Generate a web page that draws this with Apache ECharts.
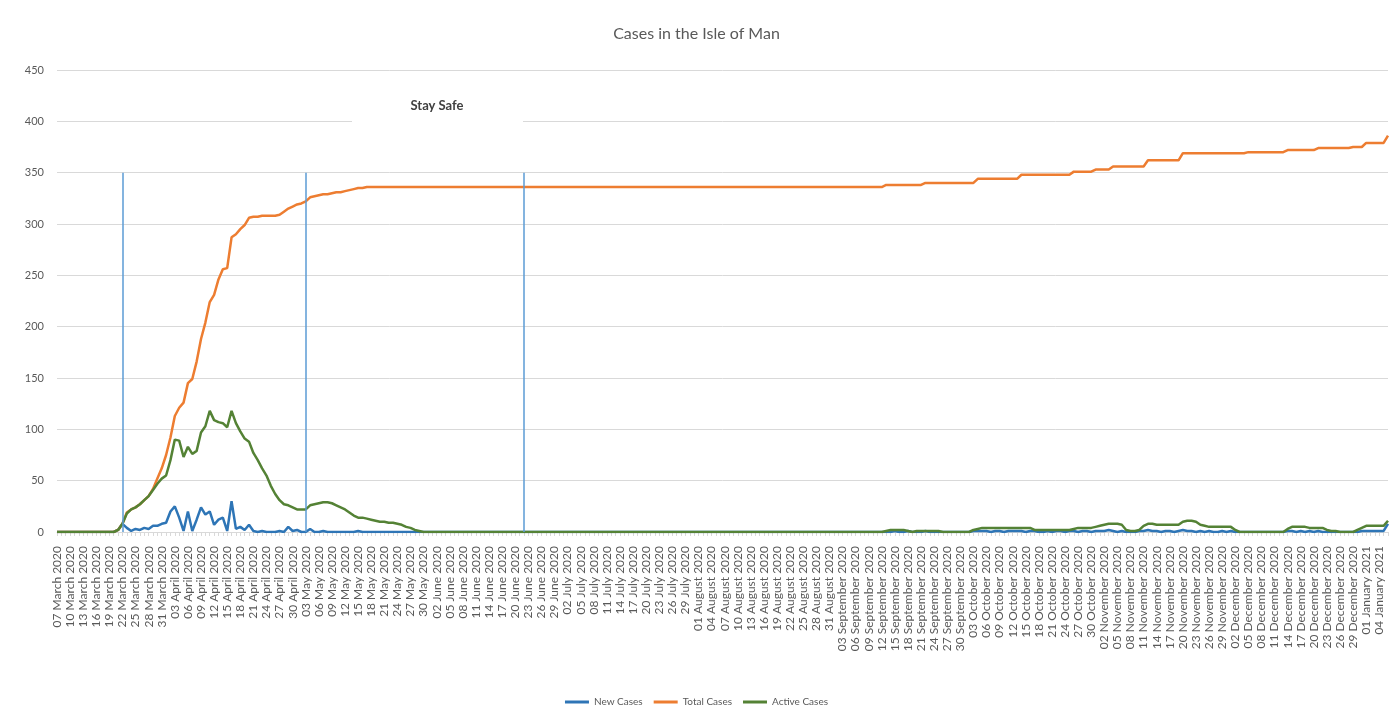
<!DOCTYPE html>
<html>
<head>
<meta charset="utf-8">
<title>Cases in the Isle of Man</title>
<script src="https://cdn.jsdelivr.net/npm/echarts@6/dist/echarts.min.js"></script>
<style>
  html, body { margin: 0; padding: 0; background: #fff; }
  #caseChart { width: 1393px; height: 725px; }
</style>
</head>
<body>
<div id="caseChart"></div>
<script>
// daily figures, 07 March 2020 -> 06 January 2021
const firstDay = "2020-03-07";
const dayCount = 306;
const monthNames = ["January", "February", "March", "April", "May", "June",
  "July", "August", "September", "October", "November", "December"];

const yMax = 450;
const yStep = 50;

const seriesNames = ["New Cases", "Total Cases", "Active Cases"];

// blue marker lines (lockdown dates)
const markerDates = ["22 March 2020", "03 May 2020", "22 June 2020"];
const markerTop = 350;

const newCases = [
  0, 0, 0, 0, 0, 0, 0, 0, 0, 0,
  0, 0, 0, 0, 2, 8, 4, 1, 3, 2,
  4, 3, 6, 6, 8, 9, 20, 25, 14, 1,
  20, 1, 12, 24, 17, 20, 7, 12, 14, 1,
  30, 3, 5, 2, 7, 1, 0, 1, 0, 0,
  0, 1, 0, 5, 1, 2, 0, 0, 3, 0,
  0, 1, 0, 0, 0, 0, 0, 0, 0, 1,
  0, 0, 0, 0, 0, 0, 0, 0, 0, 0,
  0, 0, 0, 0, 0, 0, 0, 0, 0, 0,
  0, 0, 0, 0, 0, 0, 0, 0, 0, 0,
  0, 0, 0, 0, 0, 0, 0, 0, 0, 0,
  0, 0, 0, 0, 0, 0, 0, 0, 0, 0,
  0, 0, 0, 0, 0, 0, 0, 0, 0, 0,
  0, 0, 0, 0, 0, 0, 0, 0, 0, 0,
  0, 0, 0, 0, 0, 0, 0, 0, 0, 0,
  0, 0, 0, 0, 0, 0, 0, 0, 0, 0,
  0, 0, 0, 0, 0, 0, 0, 0, 0, 0,
  0, 0, 0, 0, 0, 0, 0, 0, 0, 0,
  0, 0, 0, 0, 0, 0, 0, 0, 0, 0,
  0, 0, 1, 0, 0, 1, 0, 0, 0, 1,
  0, 0, 0, 0, 0, 0, 0, 0, 0, 0,
  1, 1, 1, 1, 0, 1, 1, 0, 1, 1,
  1, 1, 0, 1, 1, 0, 0, 1, 0, 1,
  1, 0, 1, 1, 0, 1, 1, 0, 1, 1,
  1, 2, 1, 0, 1, 0, 0, 0, 1, 1,
  2, 1, 1, 0, 1, 1, 0, 1, 2, 1,
  1, 0, 1, 0, 1, 0, 0, 1, 0, 1,
  0, 0, 0, 0, 0, 0, 0, 0, 0, 0,
  0, 0, 1, 1, 0, 1, 0, 1, 0, 1,
  0, 0, 0, 0, 0, 0, 0, 0, 0, 1,
  1, 1, 1, 1, 1, 8
];

const totalCases = [
  0, 0, 0, 0, 0, 0, 0, 0, 0, 0,
  0, 0, 0, 0, 2, 8, 19, 22, 24, 27,
  31, 35, 42, 52, 62, 75, 92, 113, 121, 126,
  145, 149, 166, 188, 204, 224, 231, 246, 256, 257,
  287, 290, 295, 299, 306, 307, 307, 308, 308, 308,
  308, 309, 312, 315, 317, 319, 320, 322, 326, 327,
  328, 329, 329, 330, 331, 331, 332, 333, 334, 335,
  335, 336, 336, 336, 336, 336, 336, 336, 336, 336,
  336, 336, 336, 336, 336, 336, 336, 336, 336, 336,
  336, 336, 336, 336, 336, 336, 336, 336, 336, 336,
  336, 336, 336, 336, 336, 336, 336, 336, 336, 336,
  336, 336, 336, 336, 336, 336, 336, 336, 336, 336,
  336, 336, 336, 336, 336, 336, 336, 336, 336, 336,
  336, 336, 336, 336, 336, 336, 336, 336, 336, 336,
  336, 336, 336, 336, 336, 336, 336, 336, 336, 336,
  336, 336, 336, 336, 336, 336, 336, 336, 336, 336,
  336, 336, 336, 336, 336, 336, 336, 336, 336, 336,
  336, 336, 336, 336, 336, 336, 336, 336, 336, 336,
  336, 336, 336, 336, 336, 336, 336, 336, 336, 336,
  338, 338, 338, 338, 338, 338, 338, 338, 338, 340,
  340, 340, 340, 340, 340, 340, 340, 340, 340, 340,
  340, 344, 344, 344, 344, 344, 344, 344, 344, 344,
  344, 348, 348, 348, 348, 348, 348, 348, 348, 348,
  348, 348, 348, 351, 351, 351, 351, 351, 353, 353,
  353, 353, 356, 356, 356, 356, 356, 356, 356, 356,
  362, 362, 362, 362, 362, 362, 362, 362, 369, 369,
  369, 369, 369, 369, 369, 369, 369, 369, 369, 369,
  369, 369, 369, 370, 370, 370, 370, 370, 370, 370,
  370, 370, 372, 372, 372, 372, 372, 372, 372, 374,
  374, 374, 374, 374, 374, 374, 374, 375, 375, 375,
  379, 379, 379, 379, 379, 386
];

const activeCases = [
  0, 0, 0, 0, 0, 0, 0, 0, 0, 0,
  0, 0, 0, 0, 2, 8, 18, 22, 24, 27,
  31, 35, 41, 47, 52, 55, 70, 90, 89, 73,
  83, 76, 79, 97, 103, 118, 109, 107, 106, 102,
  118, 106, 98, 91, 88, 77, 70, 62, 55, 45,
  37, 31, 27, 26, 24, 22, 22, 22, 26, 27,
  28, 29, 29, 28, 26, 24, 22, 19, 16, 14,
  14, 13, 12, 11, 10, 10, 9, 9, 8, 7,
  5, 4, 2, 1, 0, 0, 0, 0, 0, 0,
  0, 0, 0, 0, 0, 0, 0, 0, 0, 0,
  0, 0, 0, 0, 0, 0, 0, 0, 0, 0,
  0, 0, 0, 0, 0, 0, 0, 0, 0, 0,
  0, 0, 0, 0, 0, 0, 0, 0, 0, 0,
  0, 0, 0, 0, 0, 0, 0, 0, 0, 0,
  0, 0, 0, 0, 0, 0, 0, 0, 0, 0,
  0, 0, 0, 0, 0, 0, 0, 0, 0, 0,
  0, 0, 0, 0, 0, 0, 0, 0, 0, 0,
  0, 0, 0, 0, 0, 0, 0, 0, 0, 0,
  0, 0, 0, 0, 0, 0, 0, 0, 0, 0,
  1, 2, 2, 2, 2, 1, 0, 1, 1, 1,
  1, 1, 1, 0, 0, 0, 0, 0, 0, 0,
  2, 3, 4, 4, 4, 4, 4, 4, 4, 4,
  4, 4, 4, 4, 2, 2, 2, 2, 2, 2,
  2, 2, 2, 3, 4, 4, 4, 4, 5, 6,
  7, 8, 8, 8, 7, 2, 1, 1, 2, 6,
  8, 8, 7, 7, 7, 7, 7, 7, 10, 11,
  11, 10, 7, 6, 5, 5, 5, 5, 5, 5,
  2, 0, 0, 0, 0, 0, 0, 0, 0, 0,
  0, 0, 3, 5, 5, 5, 5, 4, 4, 4,
  4, 2, 1, 1, 0, 0, 0, 0, 2, 4,
  6, 6, 6, 6, 6, 11
];

const colors = ["#2E75B6", "#ED7D31", "#548235"];

function buildDays() {
  const list = [];
  const d = new Date(firstDay + "T00:00:00Z");
  for (let i = 0; i < dayCount; i++) {
    const dd = String(d.getUTCDate()).padStart(2, "0");
    list.push(dd + " " + monthNames[d.getUTCMonth()] + " " + d.getUTCFullYear());
    d.setUTCDate(d.getUTCDate() + 1);
  }
  return list;
}

const days = buildDays();
const chart = echarts.init(document.getElementById("caseChart"));

function lineSeries(name, values, color, extra) {
  return Object.assign({
    name: name,
    type: "line",
    data: values,
    showSymbol: false,
    symbol: "none",
    lineStyle: { width: 2.5, color: color },
    itemStyle: { color: color }
  }, extra || {});
}

chart.setOption({
  animation: false,
  backgroundColor: "#fff",
  textStyle: { fontFamily: "Lato, sans-serif" },
  title: {
    text: "Cases in the Isle of Man",
    left: "center",
    top: 21,
    textStyle: { fontSize: 16, fontWeight: "normal", color: "#595959", fontFamily: "Lato" }
  },
  legend: {
    data: seriesNames,
    bottom: 13,
    left: "center",
    icon: "rect",
    itemWidth: 24,
    itemHeight: 3,
    itemGap: 11,
    textStyle: { fontSize: 10, color: "#595959", fontFamily: "Lato" }
  },
  grid: {
    left: 57,
    right: 5,
    top: 70,
    bottom: 193,
    containLabel: false
  },
  xAxis: {
    type: "category",
    boundaryGap: false,
    data: days,
    axisLine: { lineStyle: { color: "#d9d9d9" } },
    axisTick: { show: true, interval: 0, length: 4, lineStyle: { color: "#d9d9d9" } },
    axisLabel: {
      interval: 2,
      rotate: 90,
      fontSize: 12,
      color: "#595959",
      fontFamily: "Lato",
      margin: 14
    }
  },
  yAxis: {
    type: "value",
    min: 0,
    max: yMax,
    interval: yStep,
    axisLine: { show: false },
    axisTick: { show: false },
    axisLabel: { fontSize: 11, color: "#595959", margin: 13, fontFamily: "Lato" },
    splitLine: { lineStyle: { color: "#d9d9d9", width: 1 } }
  },
  graphic: [
    {
      type: "rect",
      z: 10,
      shape: { x: 352, y: 92, width: 171, height: 34 },
      style: { fill: "#fff" }
    },
    {
      type: "text",
      z: 11,
      style: {
        text: "Stay Safe",
        x: 437,
        y: 106,
        align: "center",
        verticalAlign: "middle",
        font: "bold 13px Lato",
        fill: "#404040"
      }
    }
  ],
  series: [
    lineSeries(seriesNames[0], newCases, colors[0], {
      markLine: {
        silent: true,
        symbol: "none",
        label: { show: false },
        lineStyle: { color: "#5B9BD5", width: 1.5, type: "solid" },
        data: markerDates.map(function (d) {
          return [{ coord: [d, 0] }, { coord: [d, markerTop] }];
        })
      }
    }),
    lineSeries(seriesNames[1], totalCases, colors[1]),
    lineSeries(seriesNames[2], activeCases, colors[2])
  ]
});
</script>
</body>
</html>
